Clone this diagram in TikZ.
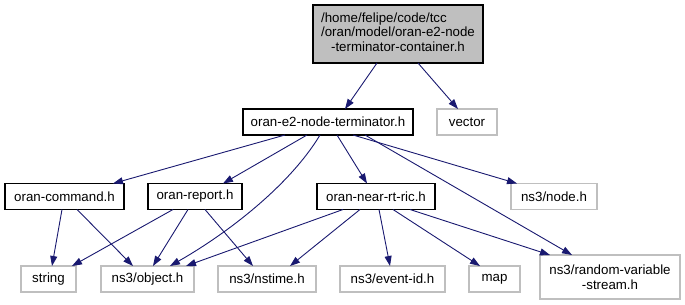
\documentclass[tikz,border=0pt]{standalone}
\usepackage{fontspec}
\setmainfont{Liberation Sans}
\usetikzlibrary{arrows.meta}
\definecolor{edgeblue}{HTML}{191970}
\definecolor{boxgray}{HTML}{BFBFBF}
\begin{document}
\begin{tikzpicture}[x=1pt,y=-1pt,
  every node/.style={inner sep=0pt,outer sep=0pt,align=center,
    font=\fontsize{13.3}{14.7}\selectfont},
  hdr/.style={draw=black,line width=1.1pt,minimum height=26pt},
  rootbox/.style={draw=black,line width=1.1pt,fill=boxgray,minimum height=58pt,minimum width=170pt},
  extbox/.style={draw=boxgray,line width=1.1pt,minimum height=26pt},
  dep/.style={draw=edgeblue,line width=0.9pt,-{Triangle[length=10pt,width=7pt]}}]
\useasboundingbox (0,0) rectangle (685,305);

% header files of the project
\node[rootbox] (root) at (398,34) {\begin{tabular}{@{}l@{}}/home/felipe/code/tcc\\/oran/model/oran-e2-node\\\multicolumn{1}{@{}c@{}}{-terminator-container.h}\end{tabular}};
\node[hdr,minimum width=170pt] (term) at (328,122) {oran-e2-node-terminator.h};
\node[hdr,minimum width=119pt] (cmd) at (64.5,196.5) {oran-command.h};
\node[hdr,minimum width=94pt] (rep) at (195,196.5) {oran-report.h};
\node[hdr,minimum width=118pt] (ric) at (376,196.5) {oran-near-rt-ric.h};

% system and ns-3 headers
\node[extbox,minimum width=60pt] (vec) at (467,122) {vector};
\node[extbox,minimum width=86pt] (nnode) at (554,196.5) {ns3/node.h};
\node[extbox,minimum width=55pt] (str) at (48.5,279) {string};
\node[extbox,minimum width=93pt] (obj) at (147.5,279) {ns3/object.h};
\node[extbox,minimum width=98pt] (nst) at (267,279) {ns3/nstime.h};
\node[extbox,minimum width=105pt] (evt) at (392.5,279) {ns3/event-id.h};
\node[extbox,minimum width=51pt] (map) at (494.5,279) {map};
\node[extbox,minimum width=140pt,minimum height=44pt] (rvs) at (610,277) {ns3/random-variable\\-stream.h};

% include edges
\draw[dep] ([xshift=-21pt]root.south) -- ([xshift=17pt]term.north);
\draw[dep] ([xshift=20pt]root.south) -- ([xshift=-9pt]vec.north);

\draw[dep] ([xshift=-43pt]term.south) -- ([xshift=48.5pt]cmd.north);
\draw[dep] ([xshift=-21pt]term.south) -- ([xshift=28pt]rep.north);
\draw[dep] ([xshift=-8pt]term.south) .. controls ([xshift=-38pt,yshift=-50pt]term.south) and ([xshift=-100pt,yshift=-98pt]term.south) .. ([xshift=22.5pt]obj.north);
\draw[dep] ([xshift=9pt]term.south) -- ([xshift=-9pt]ric.north);
\draw[dep] ([xshift=25pt]term.south) -- ([xshift=-37pt]nnode.north);
\draw[dep] ([xshift=37pt]term.south) -- ([xshift=-38pt]rvs.north);

\draw[dep] ([xshift=-2.5pt]cmd.south) -- ([xshift=3.5pt]str.north);
\draw[dep] ([xshift=12.5pt]cmd.south) -- ([xshift=-14.5pt]obj.north);

\draw[dep] ([xshift=-22pt]rep.south) -- ([xshift=23.5pt]str.north);
\draw[dep] ([xshift=-7pt]rep.south) -- ([xshift=5.5pt]obj.north);
\draw[dep] ([xshift=10pt]rep.south) -- ([xshift=-14pt]nst.north);

\draw[dep] ([xshift=-33pt]ric.south) -- ([xshift=38.5pt]obj.north);
\draw[dep] ([xshift=-16pt]ric.south) -- ([xshift=23pt]nst.north);
\draw[dep] ([xshift=3pt]ric.south) -- ([xshift=-2.5pt]evt.north);
\draw[dep] ([xshift=17pt]ric.south) -- ([xshift=-14.5pt]map.north);
\draw[dep] ([xshift=34pt]ric.south) -- ([xshift=-60pt]rvs.north);
\end{tikzpicture}
\end{document}
